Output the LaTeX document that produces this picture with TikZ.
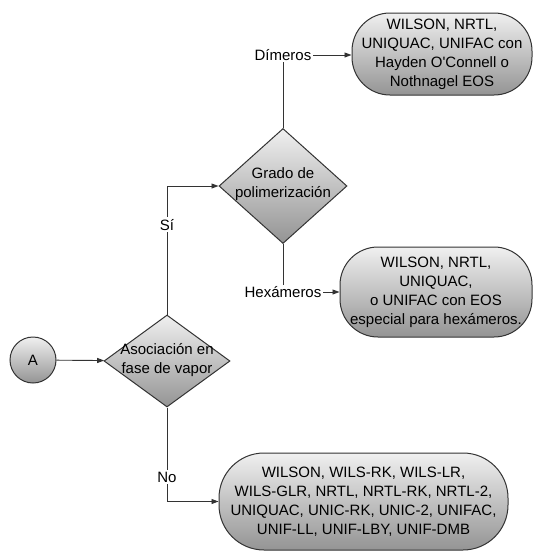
\documentclass[tikz,border=0pt]{standalone}
\usepackage{fontspec}
\setmainfont{Liberation Sans}
\usetikzlibrary{shapes.geometric,arrows.meta}

\begin{document}
\begin{tikzpicture}[x=1pt, y=-1pt,
  box/.style={draw=black!80, line width=1pt, top color=black!6,
              bottom color=black!42, align=center, inner sep=0pt,
              font=\fontsize{15}{19}\selectfont},
  result/.style={box, rectangle, rounded corners=38pt},
  decision/.style={box, diamond, inner sep=0pt},
  txt/.style={align=center, inner sep=0pt, font=\fontsize{15}{19}\selectfont},
  lbl/.style={fill=white, inner sep=1.5pt, font=\fontsize{15}{19}\selectfont},
  conn/.style={draw=black!80, line width=0.9pt},
  arr/.style={conn, -{Triangle[length=7pt,width=5pt]}},
]

\useasboundingbox (0,0) rectangle (533,552);

% Start and decisions
\node[box, circle, minimum size=46pt] (start) at (33,360) {A};
\node[decision, minimum width=126pt, minimum height=92pt] (asoc) at (167,361) {};
\node[txt] (asoctxt) at (167,360) {Asociación en\\fase de vapor};
\node[decision, minimum width=128pt, minimum height=115pt] (grado) at (283,186) {};
\node[txt] (gradotxt) at (283,184) {Grado de\\polimerización};

% Results
\node[result, minimum width=180pt, minimum height=82pt] (dimres) at (442,54)
  {WILSON, NRTL,\\UNIQUAC, UNIFAC con\\Hayden O\textquotesingle Connell o\\Nothnagel EOS};
\node[result, minimum width=192pt, minimum height=90pt] (hexres) at (436,292)
  {WILSON, NRTL,\\UNIQUAC,\\o UNIFAC con EOS\\especial para hexámeros.};
\node[result, rounded corners=45pt, minimum width=289pt, minimum height=97pt]
  (nores) at (363.5,501.5)
  {WILSON, WILS-RK, WILS-LR,\\WILS-GLR, NRTL, NRTL-RK, NRTL-2,\\UNIQUAC, UNIC-RK, UNIC-2, UNIFAC,\\UNIF-LL, UNIF-LBY, UNIF-DMB};

% Branch labels
\node[lbl] (dim) at (283,55) {Dímeros};
\node[lbl] (hex) at (283,292) {Hexámeros};

% Connectors
\draw[arr] (start) -- (asoc);
\draw[arr] (asoc.north) |- node[lbl, pos=0.35] {Sí} (grado.west);
\draw[conn] (grado.north) -- (dim.south);
\draw[arr] (dim.east) -- (dim.east -| dimres.west);
\draw[conn] (grado.south) -- (hex.north);
\draw[arr] (hex.east) -- (hex.east -| hexres.west);
\draw[arr] (asoc.south) |- node[lbl, pos=0.37] {No} (nores.west);

\end{tikzpicture}
\end{document}
